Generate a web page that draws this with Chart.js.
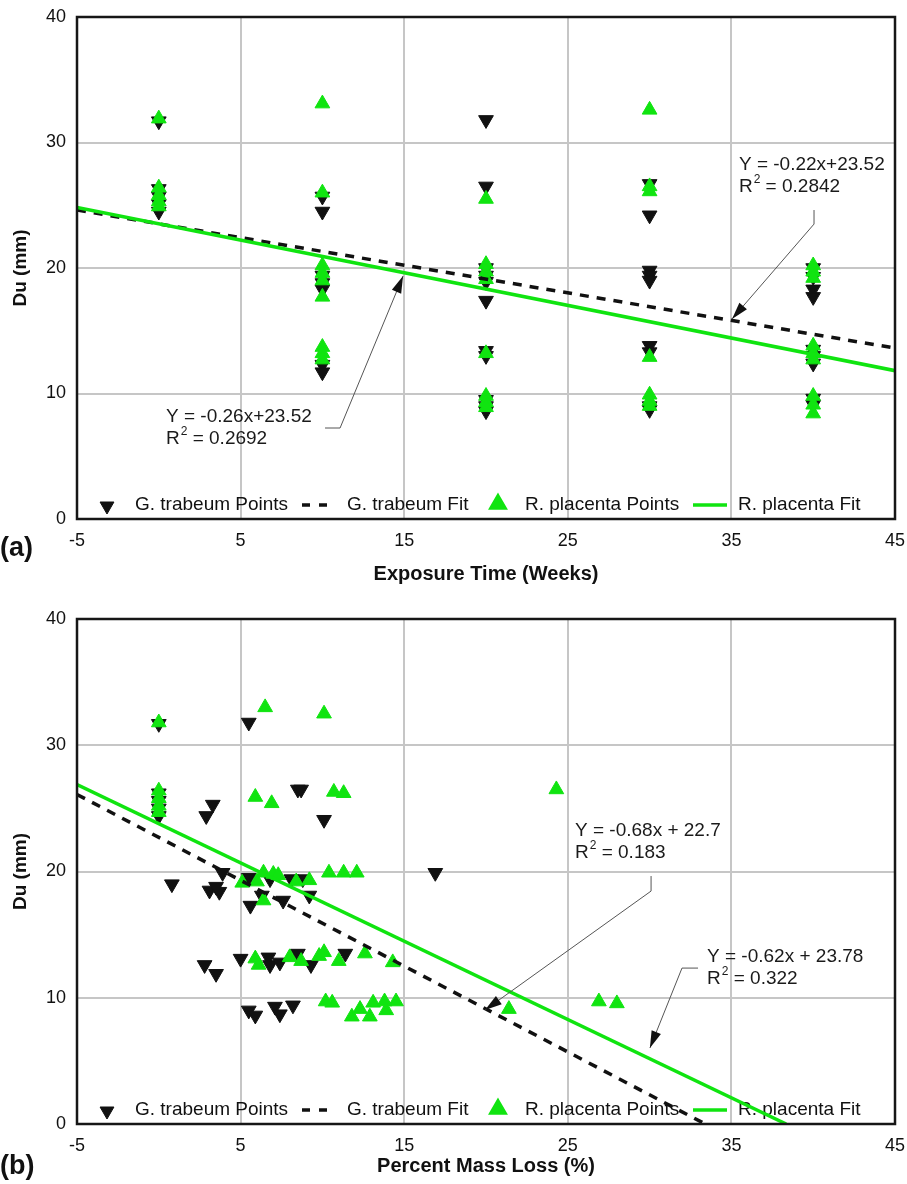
<!DOCTYPE html>
<html>
<head>
<meta charset="utf-8">
<title>Du vs exposure time and mass loss</title>
<script src="https://cdn.jsdelivr.net/npm/chart.js@4.4.1/dist/chart.umd.min.js"></script>
<style>
  html, body { margin: 0; padding: 0; background: #fff; }
  #wrap { position: relative; width: 907px; height: 1184px; overflow: hidden; }
  canvas { position: absolute; left: 0; }
  #chartA { top: 0; }
  #chartB { top: 592px; }
  .tag { position: absolute; left: 0; font: bold 27px "Liberation Sans", Arial, sans-serif; color: #111; line-height: 1; }
</style>
</head>
<body>
<div id="wrap">
  <canvas id="chartA" width="907" height="592"></canvas>
  <canvas id="chartB" width="907" height="592"></canvas>
  <div class="tag" style="top:534px">(a)</div>
  <div class="tag" style="top:1152px">(b)</div>
</div>
<script>
// ---- data ----
const xTicks = [-5, 5, 15, 25, 35, 45];
const legendLabels = ["G. trabeum Points", "G. trabeum Fit", "R. placenta Points", "R. placenta Fit"];

// (a) Du vs exposure time, one list of Du values per week
const weeks = [0, 10, 20, 30, 40];
const gtDuByWeek = [
  [31.7, 26.3, 25.7, 25.1, 24.5],
  [25.7, 24.5, 19.4, 18.8, 18.3, 12.3, 11.7],
  [31.8, 26.5, 20.0, 19.4, 18.9, 17.4, 13.4, 13.0, 9.5, 9.0, 8.6],
  [26.7, 24.2, 19.8, 19.4, 19.0, 13.8, 13.3, 9.0, 8.7],
  [20.0, 19.3, 18.3, 17.7, 13.5, 13.0, 12.4, 9.6, 9.1]
];
const rpDuByWeek = [
  [31.9, 26.4, 25.8, 25.3, 24.9],
  [33.1, 26.0, 20.2, 19.6, 19.0, 17.7, 13.7, 13.2, 12.7],
  [25.5, 20.3, 19.7, 19.1, 13.2, 9.8, 9.3, 8.9],
  [32.6, 26.5, 26.1, 12.9, 9.9, 9.4, 9.0],
  [20.2, 19.7, 19.2, 13.8, 13.2, 12.7, 9.8, 9.1, 8.4]
];
const fitAX = [-5, 45];
const gtFitAY = [24.62, 13.62];
const rpFitAY = [24.82, 11.82];

// (b) Du vs percent mass loss
const gtLossX = [0, 0, 0, 0, 0, 5.5, 3.3, 2.9, 8.5, 8.7, 10.1, 0.8, 3.9, 3.1, 3.5, 3.7, 5.5, 5.6, 6.3, 6.8,
  7.6, 8.1, 8.8, 9.2, 16.9, 2.8, 3.5, 5.0, 6.7, 6.8, 7.4, 8.5, 9.3, 11.4, 5.5, 5.9, 7.1, 7.4, 8.2];
const gtLossY = [31.7, 26.2, 25.6, 25.0, 24.4, 31.8, 25.3, 24.4, 26.5, 26.5, 24.1, 19.0, 19.9, 18.5, 18.8, 18.4, 19.5, 17.3, 18.1, 19.4,
  17.7, 19.4, 19.4, 18.1, 19.9, 12.6, 11.9, 13.1, 13.2, 12.6, 12.8, 13.5, 12.6, 13.5, 9.0, 8.6, 9.3, 8.7, 9.4];
const rpLossX = [0, 0, 0, 0, 0, 6.5, 10.1, 5.9, 6.9, 10.7, 11.3, 5.1, 6.0, 6.4, 7.0, 7.3, 8.4, 9.2, 10.4, 11.3,
  12.1, 6.4, 5.9, 6.1, 8.0, 8.7, 9.8, 10.1, 11.0, 12.6, 14.3, 10.2, 10.6, 11.8, 12.3, 12.9, 13.1, 13.8, 13.9, 14.5,
  21.4, 24.3, 26.9, 28.0];
const rpLossY = [31.8, 26.4, 25.8, 25.2, 24.7, 33.0, 32.5, 25.9, 25.4, 26.3, 26.2, 19.1, 19.2, 19.9, 19.8, 19.7, 19.2, 19.3, 19.9, 19.9,
  19.9, 17.7, 13.1, 12.6, 13.2, 12.9, 13.3, 13.6, 12.9, 13.5, 12.8, 9.7, 9.6, 8.5, 9.1, 8.5, 9.6, 9.7, 9.0, 9.7,
  9.1, 26.5, 9.7, 9.55];
const gtFitBX = [-5, 33.4];
const gtFitBY = [26.1, 0];
const rpFitBX = [-5, 38.35];
const rpFitBY = [26.88, 0];

const GREEN = "#10e410";
const INK = "#111";
const FONT = "'Liberation Sans', Arial, sans-serif";

function zip(xs, ys) {
  return xs.map((x, i) => ({ x: x, y: ys[i] }));
}
function byGroup(xs, groups) {
  const pts = [];
  xs.forEach((x, i) => groups[i].forEach(y => pts.push({ x: x, y: y })));
  return pts;
}

// legend, equation labels with leader arrows, and the frame
const extras = {
  id: "extras",
  beforeDatasetsDraw(chart) {
    const ctx = chart.ctx, a = chart.chartArea;
    const y = a.bottom - 14;
    const x0 = a.left;
    ctx.save();
    ctx.font = "19px " + FONT;
    ctx.textBaseline = "middle";
    ctx.textAlign = "left";
    // markers / line samples
    ctx.fillStyle = INK; ctx.strokeStyle = INK;
    Chart.helpers.drawPoint(ctx, { pointStyle: "triangle", rotation: 180, radius: 8, borderWidth: 1 }, x0 + 30, y + 1);
    ctx.lineWidth = 3.5;
    ctx.setLineDash([8, 9]);
    ctx.beginPath(); ctx.moveTo(x0 + 225, y); ctx.lineTo(x0 + 250, y); ctx.stroke();
    ctx.setLineDash([]);
    ctx.fillStyle = GREEN; ctx.strokeStyle = GREEN;
    Chart.helpers.drawPoint(ctx, { pointStyle: "triangle", rotation: 0, radius: 8, borderWidth: 1 }, x0 + 421, y - 1);
    ctx.lineWidth = 3.5;
    ctx.beginPath(); ctx.moveTo(x0 + 616, y); ctx.lineTo(x0 + 650, y); ctx.stroke();
    ctx.fillStyle = INK;
    [58, 270, 448, 661].forEach((dx, i) => ctx.fillText(legendLabels[i], x0 + dx, y));
    ctx.restore();
  },
  afterDraw(chart, args, opts) {
    const ctx = chart.ctx, a = chart.chartArea;
    const sx = chart.scales.x, sy = chart.scales.y;
    ctx.save();
    (opts.notes || []).forEach(n => {
      const tx = sx.getPixelForValue(n.x);
      const t1 = sy.getPixelForValue(n.y1), t2 = sy.getPixelForValue(n.y2);
      ctx.fillStyle = "#1a1a1a";
      ctx.textBaseline = "middle";
      ctx.textAlign = "left";
      ctx.font = "19px " + FONT;
      ctx.fillText(n.eq, tx, t1);
      ctx.fillText("R", tx, t2);
      const rw = ctx.measureText("R").width;
      ctx.font = "12px " + FONT;
      ctx.fillText("2", tx + rw + 1, t2 - 7);
      const sw = ctx.measureText("2").width;
      ctx.font = "19px " + FONT;
      ctx.fillText(" = " + n.r2, tx + rw + sw + 1, t2);
      // leader
      const pts = n.path.map(p => [sx.getPixelForValue(p[0]), sy.getPixelForValue(p[1])]);
      ctx.strokeStyle = "#555";
      ctx.lineWidth = 1;
      ctx.beginPath();
      pts.forEach((p, i) => i ? ctx.lineTo(p[0], p[1]) : ctx.moveTo(p[0], p[1]));
      ctx.stroke();
      const tip = pts[pts.length - 1], prev = pts[pts.length - 2];
      const ang = Math.atan2(tip[1] - prev[1], tip[0] - prev[0]);
      ctx.fillStyle = "#111";
      ctx.beginPath();
      ctx.moveTo(tip[0], tip[1]);
      ctx.lineTo(tip[0] - 17 * Math.cos(ang) + 5 * Math.sin(ang), tip[1] - 17 * Math.sin(ang) - 5 * Math.cos(ang));
      ctx.lineTo(tip[0] - 17 * Math.cos(ang) - 5 * Math.sin(ang), tip[1] - 17 * Math.sin(ang) + 5 * Math.cos(ang));
      ctx.closePath();
      ctx.fill();
    });
    ctx.lineWidth = 2.5;
    ctx.strokeStyle = "#161616";
    ctx.strokeRect(a.left, a.top, a.width, a.height);
    ctx.restore();
  }
};

function makeChart(id, cfg) {
  return new Chart(document.getElementById(id), {
    type: "scatter",
    data: {
      datasets: [
        { label: legendLabels[0], data: cfg.gtPts, pointStyle: "triangle", rotation: 180, pointRadius: 8.5,
          backgroundColor: INK, borderColor: INK, borderWidth: 1, order: 3 },
        { label: legendLabels[1], data: cfg.gtFit, showLine: true, pointRadius: 0, borderColor: INK,
          borderWidth: 3.5, borderDash: [9, 8], order: 1 },
        { label: legendLabels[2], data: cfg.rpPts, pointStyle: "triangle", pointRadius: 8.5,
          backgroundColor: GREEN, borderColor: GREEN, borderWidth: 1, order: 2 },
        { label: legendLabels[3], data: cfg.rpFit, showLine: true, pointRadius: 0, borderColor: GREEN,
          borderWidth: 3.5, order: 0 }
      ]
    },
    options: {
      responsive: false,
      animation: false,
      events: [],
      layout: { padding: { top: cfg.top, right: 12, bottom: 0, left: 0 } },
      scales: {
        x: {
          type: "linear", min: -5, max: 45,
          afterBuildTicks: s => { s.ticks = xTicks.map(v => ({ value: v })); },
          afterFit: s => { s.height = cfg.xh; s.paddingLeft = 0; s.paddingRight = 0; },
          grid: { color: "#c6c6c6", lineWidth: 2, drawTicks: false },
          border: { display: false },
          ticks: { color: INK, font: { family: FONT, size: 18 }, padding: 11, maxRotation: 0, autoSkip: false },
          title: { display: true, text: cfg.xTitle, color: INK, font: { family: FONT, size: 20, weight: "bold" },
                   padding: { top: 0, bottom: 6 } }
        },
        y: {
          min: 0, max: 40,
          ticks: { stepSize: 10, color: INK, font: { family: FONT, size: 18 }, padding: 11 },
          afterFit: s => { s.width = 77; s.paddingTop = 0; s.paddingBottom = 0; },
          grid: { color: "#c6c6c6", lineWidth: 2, drawTicks: false },
          border: { display: false },
          title: { display: true, text: "Du (mm)", color: INK, font: { family: FONT, size: 19, weight: "bold" },
                   padding: { top: 9, bottom: 0 } }
        }
      },
      plugins: {
        legend: { display: false },
        tooltip: { enabled: false },
        extras: { notes: cfg.notes }
      }
    },
    plugins: [extras]
  });
}

makeChart("chartA", {
  top: 17, xh: 73, xTitle: "Exposure Time (Weeks)",
  gtPts: byGroup(weeks, gtDuByWeek),
  rpPts: byGroup(weeks, rpDuByWeek),
  gtFit: zip(fitAX, gtFitAY),
  rpFit: zip(fitAX, rpFitAY),
  notes: [
    { eq: "Y = -0.26x+23.52", r2: "0.2692", x: 0.44, y1: 8.13, y2: 6.4,
      path: [[10.16, 7.25], [11.08, 7.25], [14.93, 19.36]] },
    { eq: "Y = -0.22x+23.52", r2: "0.2842", x: 35.46, y1: 28.2, y2: 26.5,
      path: [[40.05, 24.62], [40.05, 23.5], [35.04, 15.94]] }
  ]
});

makeChart("chartB", {
  top: 27, xh: 60, xTitle: "Percent Mass Loss (%)",
  gtPts: zip(gtLossX, gtLossY),
  rpPts: zip(rpLossX, rpLossY),
  gtFit: zip(gtFitBX, gtFitBY),
  rpFit: zip(rpFitBX, rpFitBY),
  notes: [
    { eq: "Y = -0.68x + 22.7", r2: "0.183", x: 25.44, y1: 23.2, y2: 21.46,
      path: [[30.09, 19.64], [30.09, 18.45], [19.94, 9.03]] },
    { eq: "Y = -0.62x + 23.78", r2: "0.322", x: 33.51, y1: 13.22, y2: 11.48,
      path: [[32.96, 12.35], [31.98, 12.35], [30.02, 6.02]] }
  ]
});
</script>
</body>
</html>
